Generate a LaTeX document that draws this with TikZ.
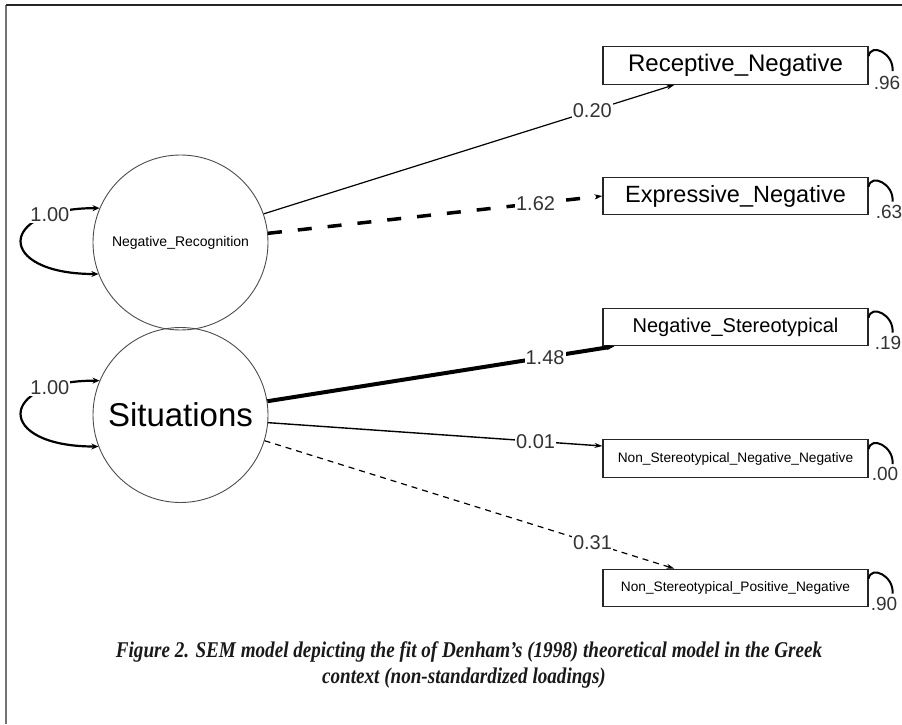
\documentclass[tikz,border=0pt]{standalone}
\usepackage{fontspec}
\setmainfont{Liberation Sans}
\newfontfamily\capfont{Liberation Serif}
\usepackage{tikz}
\usetikzlibrary{arrows.meta, calc, positioning}

\begin{document}
\begin{tikzpicture}[
    x=1pt, y=1pt,
    latent/.style={circle, draw=black!70, line width=0.9pt, minimum size=175pt, inner sep=0pt},
    manifest/.style={rectangle, draw=black!85, line width=1.1pt, minimum width=265pt, minimum height=37.5pt, inner sep=0pt},
    lbl/.style={fill=white, inner sep=1pt, text=black!80, font=\fontsize{20}{24}\selectfont},
    varlbl/.style={anchor=west, fill=white, inner sep=1pt, text=black!80, font=\fontsize{19}{22}\selectfont},
    resid/.style={line width=2pt, out=80, in=85, out distance=14pt, in distance=18pt},
    selfvar/.style={line width=2.2pt, {Stealth[length=7pt,width=6pt]}-{Stealth[length=7pt,width=6pt]},
      out=180, in=180, looseness=4},
    captxt/.style={anchor=base, text=black!90, font=\capfont\fontsize{22.5}{26}\selectfont\bfseries\itshape},
    >={Stealth[length=8pt,width=5pt]}
  ]
  \useasboundingbox (0,0) rectangle (902,724);

  % page frame (only top and left edge show)
  \draw[black!55, line width=2.2pt] (6,0) -- (6,719);
  \draw[black!85, line width=1.3pt] (6,719) -- (902,719);

  % latent factors
  \node[latent, font=\fontsize{14}{16}\selectfont] (nr) at (180.5,481.5) {Negative\_Recognition};
  \node[latent, font=\fontsize{33}{38}\selectfont] (sit) at (180.5,309) {Situations};

  % observed indicators
  \node[manifest, font=\fontsize{24}{28}\selectfont] (rec) at (735.5,658.5) {Receptive\_Negative};
  \node[manifest, font=\fontsize{23.5}{28}\selectfont] (exp) at (735.5,528) {Expressive\_Negative};
  \node[manifest, font=\fontsize{20}{24}\selectfont] (ster) at (735.5,397) {Negative\_Stereotypical};
  \node[manifest, font=\fontsize{13.7}{16}\selectfont] (nsnn) at (735.5,265.5) {Non\_Stereotypical\_Negative\_Negative};
  \node[manifest, font=\fontsize{13.7}{16}\selectfont] (nspn) at (735.5,136) {Non\_Stereotypical\_Positive\_Negative};

  % factor variances
  \draw[selfvar] (nr.157) to node[lbl, pos=0.2] {1.00} (nr.201);
  \draw[selfvar] (sit.157) to node[lbl, pos=0.2] {1.00} (sit.201);

  % loadings
  \draw[->, line width=1.2pt] (nr.19) -- ($(rec.south west)+(72,0)$)
    node[lbl, pos=0.8] {0.20};
  \draw[->, line width=3.5pt, dash pattern=on 14pt off 16pt] (nr.6) -- (exp.west)
    node[lbl, pos=0.8] {1.62};
  \draw[->, line width=4pt] (sit.9) -- ($(ster.south west)+(12,0)$)
    node[lbl, pos=0.8] {1.48};
  \draw[->, line width=1.4pt] (sit.-5) -- ($(nsnn.west)+(0,12.5)$)
    node[lbl, pos=0.8] {0.01};
  \draw[->, line width=1.2pt, dash pattern=on 6pt off 5pt] (sit.-17) -- ($(nspn.north west)+(72,0)$)
    node[lbl, pos=0.8] {0.31};

  % residual variances
  \draw[resid] ($(rec.north east)+(0,-10)$) to ($(rec.north east)+(24,-25)$);
  \node[varlbl] (vrec) at ($(rec.south east)+(4,2)$) {.96};
  \draw[resid] ($(exp.north east)+(0,-10)$) to ($(exp.north east)+(24,-25)$);
  \node[varlbl] (vexp) at ($(exp.south east)+(6,3)$) {.63};
  \draw[resid] ($(ster.north east)+(0,-10)$) to ($(ster.north east)+(24,-25)$);
  \node[varlbl] (vster) at ($(ster.south east)+(5,3)$) {.19};
  \draw[resid] ($(nsnn.north east)+(0,-10)$) to ($(nsnn.north east)+(24,-25)$);
  \node[varlbl] (vnsnn) at ($(nsnn.south east)+(2,4)$) {.00};
  \draw[resid] ($(nspn.north east)+(0,-10)$) to ($(nspn.north east)+(24,-25)$);
  \node[varlbl] (vnspn) at ($(nspn.south east)+(1,3)$) {.90};

  % caption (condensed face)
  \node[captxt] (cap1) at (469,67) {\scalebox{0.85}[1]{Figure 2. SEM model depicting the fit of Denham’s (1998) theoretical model in the Greek}};
  \node[captxt] (cap2) at (464,41) {\scalebox{0.85}[1]{context (non-standardized loadings)}};
\end{tikzpicture}
\end{document}
